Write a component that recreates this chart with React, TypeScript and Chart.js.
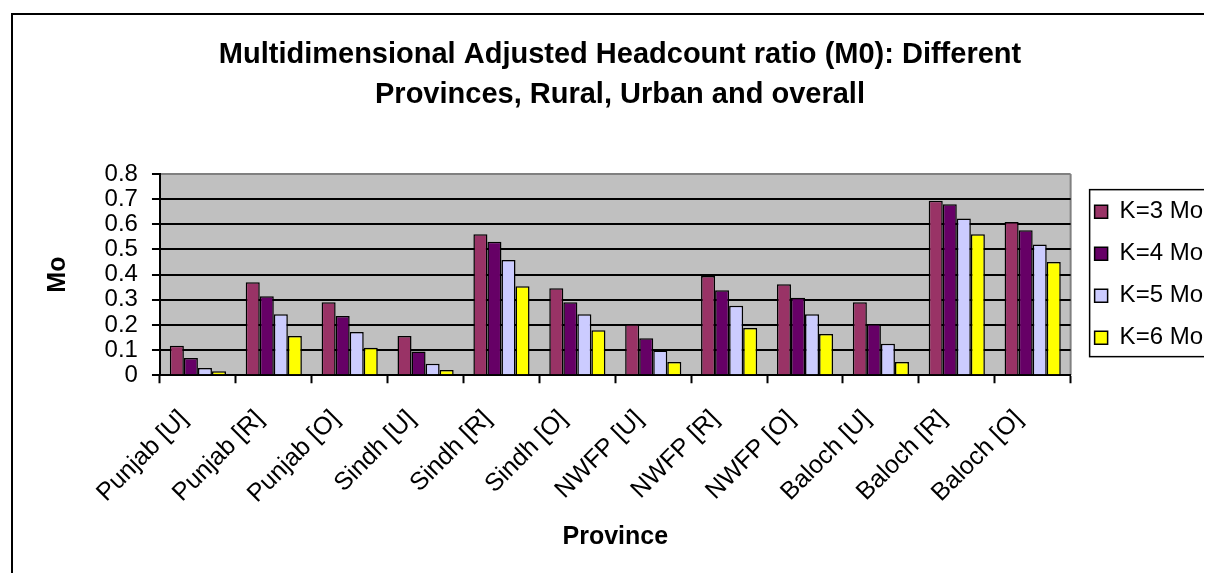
import React, { useEffect, useRef } from "react";
import { Chart, registerables } from "chart.js";

Chart.register(...registerables);

const categories = [
  "Punjab [U]", "Punjab [R]", "Punjab [O]",
  "Sindh [U]", "Sindh [R]", "Sindh [O]",
  "NWFP [U]", "NWFP [R]", "NWFP [O]",
  "Baloch [U]", "Baloch [R]", "Baloch [O]",
];
const seriesNames = ["K=3 Mo", "K=4 Mo", "K=5 Mo", "K=6 Mo"];
const k3 = [0.117, 0.37, 0.29, 0.156, 0.561, 0.346, 0.203, 0.395, 0.362, 0.29, 0.694, 0.609];
const k4 = [0.069, 0.314, 0.236, 0.094, 0.531, 0.29, 0.147, 0.338, 0.308, 0.204, 0.68, 0.577];
const k5 = [0.029, 0.243, 0.172, 0.046, 0.458, 0.243, 0.098, 0.276, 0.243, 0.125, 0.623, 0.52];
const k6 = [0.016, 0.156, 0.109, 0.021, 0.354, 0.179, 0.053, 0.188, 0.164, 0.053, 0.561, 0.45];
const seriesColors = ["#993366", "#660066", "#CCCCFF", "#FFFF00"];
const titleLines = [
  "Multidimensional Adjusted Headcount ratio (M0): Different",
  "Provinces, Rural, Urban and overall",
];
const xTitle = "Province";
const yTitle = "Mo";

const FONT = "'Liberation Sans', Arial, Helvetica, sans-serif";

const plotBg = {
  id: "plotBg",
  beforeDraw(chart: any) {
    const { ctx, chartArea: a } = chart;
    ctx.save();
    ctx.fillStyle = "#C0C0C0";
    ctx.fillRect(a.left, a.top, a.right - a.left, a.bottom - a.top);
    ctx.strokeStyle = "#808080";
    ctx.lineWidth = 2;
    ctx.beginPath();
    ctx.moveTo(a.right, a.top);
    ctx.lineTo(a.right, a.bottom);
    ctx.stroke();
    ctx.restore();
  },
};

const legendFrame = {
  id: "legendFrame",
  afterDraw(chart: any) {
    const lg = chart.legend;
    if (!lg || !lg.legendHitBoxes || !lg.legendHitBoxes.length) return;
    const hb = lg.legendHitBoxes;
    const first = hb[0];
    const last = hb[hb.length - 1];
    const left = first.left - 5;
    const top = first.top - 10;
    const bottom = last.top + last.height + 7;
    const right = left + 145;
    const ctx = chart.ctx;
    ctx.save();
    ctx.strokeStyle = "#000";
    ctx.lineWidth = 1.5;
    ctx.strokeRect(left, top, right - left, bottom - top);
    ctx.restore();
  },
};

const spacerAxis = (weight: number, width: number) => ({
  type: "linear",
  position: "right",
  weight,
  display: true,
  grid: { display: false, drawTicks: false },
  border: { display: false },
  ticks: { display: false },
  afterFit: (s: any) => {
    s.width = width;
  },
});

export default function App() {
  const ref = useRef<HTMLCanvasElement | null>(null);

  useEffect(() => {
    if (!ref.current) return;
    document.documentElement.style.overflow = "hidden";
    document.body.style.overflow = "hidden";
    Chart.defaults.font.family = FONT;
    Chart.defaults.color = "#000";
    const values = [k3, k4, k5, k6];
    const chart = new Chart(ref.current, {
      type: "bar",
      data: {
        labels: categories,
        datasets: seriesNames.map((name, i) => ({
          label: name,
          data: values[i],
          backgroundColor: seriesColors[i],
          borderColor: "#000",
          borderWidth: 1.5,
          categoryPercentage: 0.74,
          barPercentage: 1.0,
          yAxisID: "y",
          xAxisID: "x",
        })),
      },
      options: {
        responsive: false,
        animation: false,
        devicePixelRatio: 1,
        layout: { padding: { left: 0, top: 0, right: 0, bottom: 0 } },
        plugins: {
          tooltip: { enabled: false },
          title: {
            display: true,
            text: titleLines,
            color: "#000",
            font: { family: FONT, size: 29, weight: "bold", lineHeight: 1.38 },
            padding: { top: 20, bottom: 59 },
          },
          legend: {
            display: true,
            position: "right",
            align: "center",
            fullSize: false,
            labels: {
              color: "#000",
              font: { family: FONT, size: 24 },
              boxWidth: 13,
              boxHeight: 13,
              padding: 18,
            },
          },
        },
        scales: {
          x: {
            type: "category",
            offset: true,
            grid: {
              display: true,
              offset: true,
              drawOnChartArea: false,
              drawTicks: true,
              tickLength: 8,
              tickColor: "#000",
              tickWidth: 2,
              color: "#000",
            },
            border: { display: true, color: "#000", width: 2 },
            ticks: {
              color: "#000",
              font: { family: FONT, size: 25 },
              minRotation: 45,
              maxRotation: 45,
              padding: 21,
              labelOffset: -14,
              autoSkip: false,
            },
            title: {
              display: true,
              text: xTitle,
              color: "#000",
              font: { family: FONT, size: 25, weight: "bold" },
              padding: { top: -8, bottom: 23 },
            },
          },
          y: {
            type: "linear",
            position: "left",
            min: 0,
            max: 0.8,
            grid: {
              display: true,
              drawTicks: true,
              tickLength: 8,
              lineWidth: 2,
              tickColor: "#000",
              color: (ctx: any) =>
                ctx.tick && Math.abs(ctx.tick.value - 0.8) < 1e-9 ? "#808080" : "#000",
            },
            border: { display: true, color: "#000", width: 2 },
            ticks: {
              stepSize: 0.1,
              autoSkip: false,
              color: "#000",
              padding: 14,
              font: { family: FONT, size: 24 },
              callback: (v: any) => Number(v).toFixed(1).replace(/\.0$/, ""),
            },
            title: {
              display: true,
              text: yTitle,
              color: "#000",
              font: { family: FONT, size: 25, weight: "bold" },
              padding: { top: 30, bottom: 17.6 },
            },
          },
          spacerIn: spacerAxis(500, 6),
          spacerOut: spacerAxis(2000, 14),
        },
      } as any,
      plugins: [plotBg, legendFrame],
    });
    return () => chart.destroy();
  }, []);

  return (
    <div style={{ width: 1260, height: 600, overflow: "hidden", position: "relative" }}>
      <div
        style={{
          position: "absolute",
          left: 3,
          top: 5,
          width: 1300,
          height: 620,
          border: "2px solid #000",
          background: "#fff",
        }}
      >
        <canvas ref={ref} width={1214} height={560} style={{ display: "block", width: 1214, height: 560 }} />
      </div>
    </div>
  );
}
